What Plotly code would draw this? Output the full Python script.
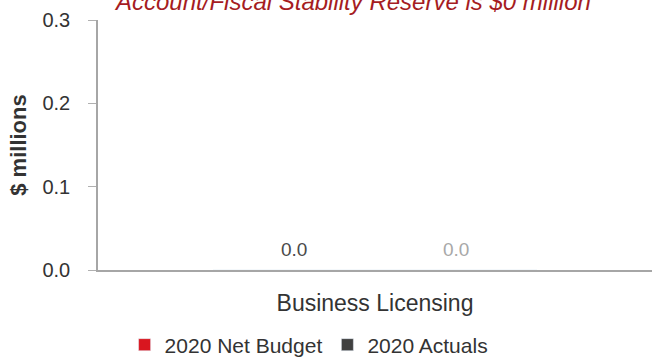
import plotly.graph_objects as go

# Data
categories = ["Business Licensing"]
series_names = ["2020 Net Budget", "2020 Actuals"]
net_budget = [0.0]
actuals = [0.0]
bar_colors = ["#d9161f", "#404040"]
label_colors = ["#4a4a4a", "#a8a8a8"]
y_ticks = [0.0, 0.1, 0.2, 0.3]
title_text = "Account/Fiscal Stability Reserve is $0 million"

FONT = "Liberation Sans, Arial, sans-serif"
bargap = 0.415

fig = go.Figure()
for name, vals, col in zip(series_names, [net_budget, actuals], bar_colors):
    fig.add_trace(go.Bar(x=categories, y=vals, name=name, marker_color=col))

# value labels above each bar (bar centres derived from the grouping geometry)
n = len(series_names)
bar_w = (1 - bargap) / n
for i, (vals, lc) in enumerate(zip([net_budget, actuals], label_colors)):
    offset = -(1 - bargap) / 2 + bar_w * (i + 0.5)
    for ci, v in enumerate(vals):
        fig.add_annotation(
            x=ci + offset, y=v, xref="x", yref="y",
            text=f"{v:.1f}", showarrow=False, yshift=21,
            font=dict(family=FONT, size=19, color=lc),
        )

fig.add_annotation(
    x=0.46, y=1.072, xref="paper", yref="paper",
    xanchor="center", yanchor="middle", showarrow=False,
    text=f"<i>{title_text}</i>",
    font=dict(family=FONT, size=24, color="#a51c22"),
)

fig.update_layout(
    width=652, height=360,
    margin=dict(l=98, r=0, t=20, b=90, autoexpand=False),
    paper_bgcolor="white", plot_bgcolor="white",
    bargap=bargap,
    font=dict(family=FONT, color="#333333"),
    showlegend=True,
    legend=dict(
        orientation="h", x=0.048, xanchor="left", y=-0.30, yanchor="middle",
        font=dict(family=FONT, size=21, color="#333333"),
        itemwidth=30,
    ),
    xaxis=dict(
        showline=True, linecolor="#a6a6a6", linewidth=1.5,
        ticks="", tickfont=dict(family=FONT, size=23, color="#333333"),
        ticklabelstandoff=12, showgrid=False,
    ),
    yaxis=dict(
        range=[0, 0.3], tickvals=y_ticks, tickformat=".1f",
        showline=True, linecolor="#a6a6a6", linewidth=1.5,
        ticks="outside", ticklen=8, tickcolor="#b0b0b0",
        ticklabelstandoff=14, showgrid=False, zeroline=False,
        tickfont=dict(family=FONT, size=20, color="#333333"),
        title=dict(text="<b>$ millions</b>", standoff=10,
                   font=dict(family=FONT, size=22, color="#333333")),
    ),
)

fig.write_html("out.html")
